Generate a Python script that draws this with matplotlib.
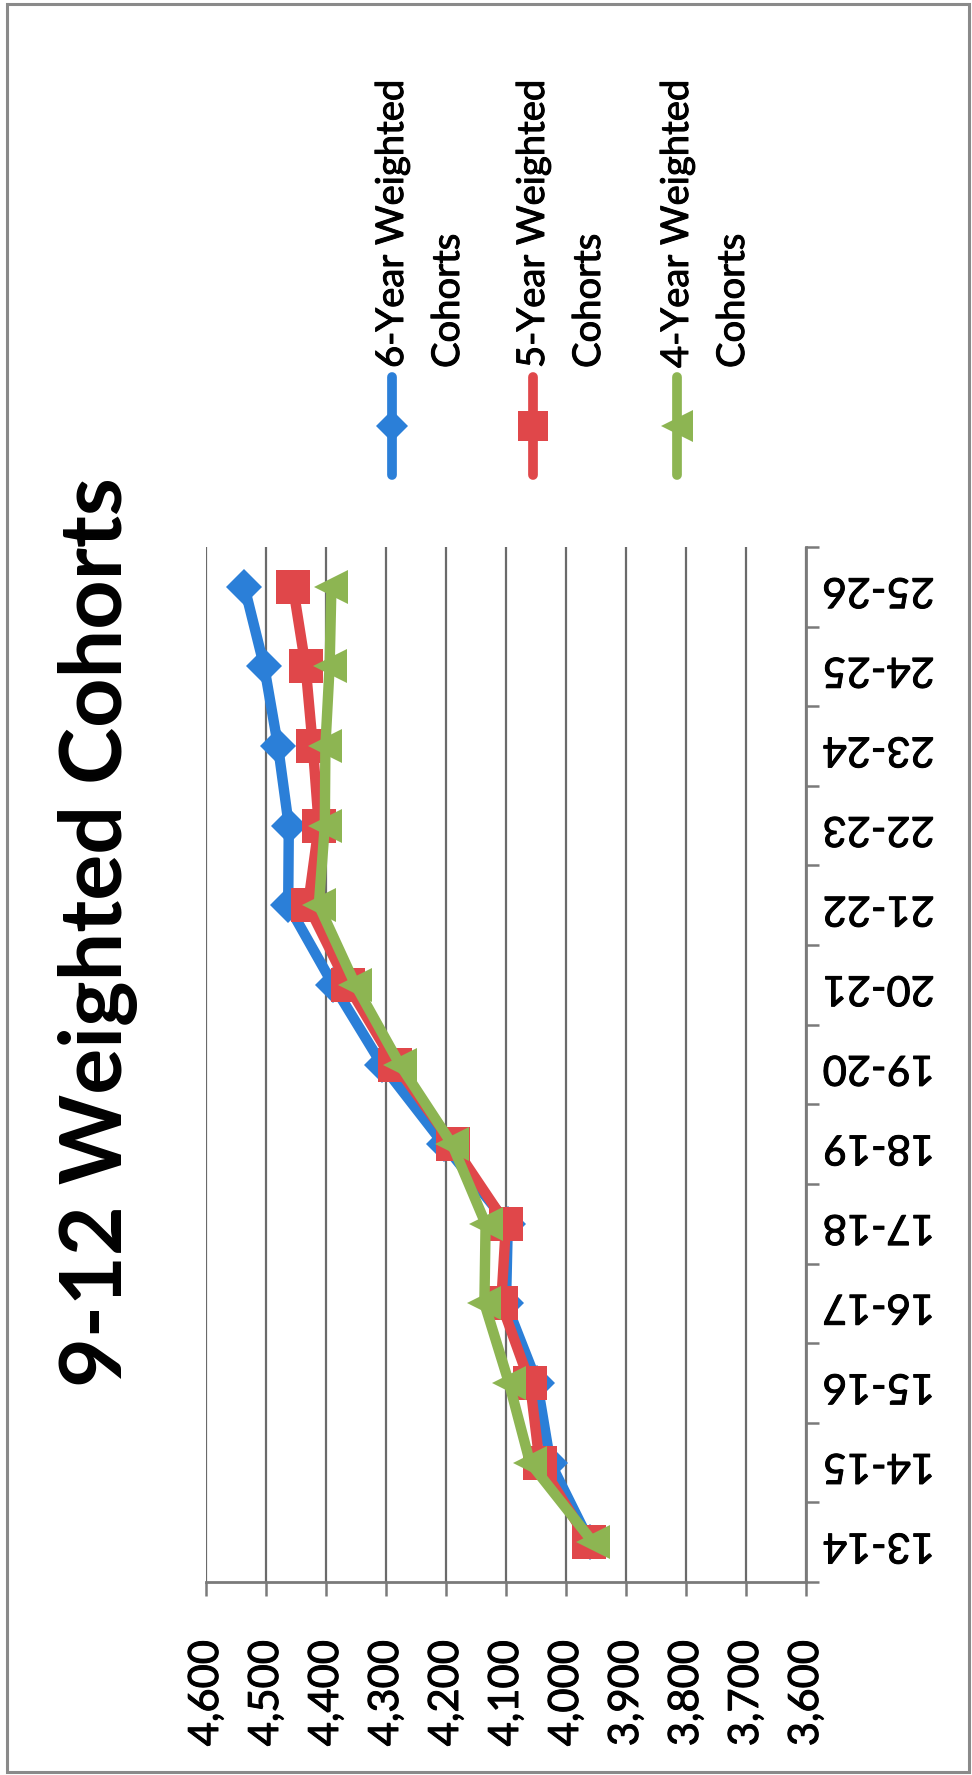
import numpy as np
import matplotlib
matplotlib.use("Agg")
import matplotlib.pyplot as plt
import matplotlib.patheffects as pe
from matplotlib.lines import Line2D
from matplotlib.patches import Rectangle
from matplotlib.ticker import FixedLocator, FuncFormatter, NullFormatter

plt.rcParams['font.family'] = ['Lato', 'DejaVu Sans']

# school years and weighted cohort projections
years = ['13-14', '14-15', '15-16', '16-17', '17-18', '18-19', '19-20',
         '20-21', '21-22', '22-23', '23-24', '24-25', '25-26']
six_year = [3960, 4026, 4048, 4100, 4097, 4204, 4307, 4388, 4463, 4462, 4480, 4503, 4536]
five_year = [3962, 4044, 4060, 4108, 4100, 4189, 4285, 4364, 4430, 4412, 4422, 4434, 4455]
four_year = [3955, 4060, 4095, 4136, 4134, 4190, 4277, 4351, 4412, 4402, 4401, 4394, 4391]

series_names = ['6-Year Weighted\nCohorts', '5-Year Weighted\nCohorts', '4-Year Weighted\nCohorts']
colors = ['#2b7fd8', '#e0474a', '#8db552']
markers = ['D', 's', '<']
msizes = [18, 24, 25]

# slightly heavier strokes for the regular-weight text
thick = [pe.withStroke(linewidth=0.7, foreground='black')]

W, H = 972, 1775
fig = plt.figure(figsize=(W / 100, H / 100), dpi=100)
fig.patch.set_facecolor('white')

# sheet is laid out sideways: values run along x (reversed), years along y
ax = fig.add_axes([206 / W, 1 - 1582 / H, 600 / W, 1035 / H])
ypos = np.arange(len(years))
for vals, c, m, ms in zip([six_year, five_year, four_year], colors, markers, msizes):
    ax.plot(vals, ypos, color=c, lw=7.5, marker=m, ms=ms, mec=c, mew=0,
            solid_joinstyle='round', zorder=3)

ax.set_xlim(4600, 3600)
ax.set_ylim(-0.5, len(years) - 0.5)

ax.xaxis.set_major_locator(FixedLocator(np.arange(3600, 4601, 100)))
ax.xaxis.set_major_formatter(FuncFormatter(lambda v, p: f'{int(v):,}'))
ax.tick_params(axis='x', direction='out', length=10, width=1.8, color='#7a7a7a',
               pad=32, labelsize=30, labelrotation=90)
for lbl in ax.get_xticklabels():
    lbl.set_va('top')
    lbl.set_path_effects(thick)
ax.grid(axis='x', color='#6a6a6a', lw=1.6, zorder=1)

ax.yaxis.tick_right()
ax.yaxis.set_major_locator(FixedLocator(np.arange(-0.5, len(years), 1.0)))
ax.yaxis.set_major_formatter(NullFormatter())
ax.yaxis.set_minor_locator(FixedLocator(ypos))
ax.yaxis.set_minor_formatter(FuncFormatter(lambda v, p: years[int(round(v))]))
ax.tick_params(axis='y', which='major', direction='out', length=9, width=1.8,
               color='#7a7a7a')
ax.tick_params(axis='y', which='minor', length=0, pad=12, labelsize=30,
               labelrotation=180)
for lbl in ax.get_yticklabels(minor=True):
    lbl.set_path_effects(thick)

for s in ['left', 'top']:
    ax.spines[s].set_visible(False)
for s in ['right', 'bottom']:
    ax.spines[s].set_color('#7a7a7a')
    ax.spines[s].set_linewidth(2)

fig.text(98 / W, 1 - 932 / H, '9-12 Weighted Cohorts', rotation=90,
         ha='center', va='center', fontsize=62, fontweight='bold')

# legend drawn sideways above the plot
leg_x = [392, 533, 677]
for x, name, c, m, ms in zip(leg_x, series_names, colors, markers, msizes):
    fx = x / W
    fig.add_artist(Line2D([fx, fx], [1 - 377 / H, 1 - 475 / H], color=c, lw=7,
                          solid_capstyle='round', transform=fig.transFigure))
    fig.add_artist(Line2D([fx], [1 - 426 / H], color=c, marker=m, ms=ms * 0.9,
                          mew=0, transform=fig.transFigure))
    line1, line2 = name.split('\n')
    fig.text(fx, 1 - 368 / H, line1, rotation=90, ha='center', va='bottom',
             fontsize=27.5, path_effects=thick)
    fig.text((x + 56) / W, 1 - 368 / H, line2, rotation=90, ha='center', va='bottom',
             fontsize=27.5, path_effects=thick)

fig.add_artist(Rectangle((7 / W, 1 - 1772 / H), 962 / W, 1768 / H, fill=False,
                         edgecolor='#8a8a8a', lw=2.2, transform=fig.transFigure))

fig.savefig('out.png', dpi=100)
